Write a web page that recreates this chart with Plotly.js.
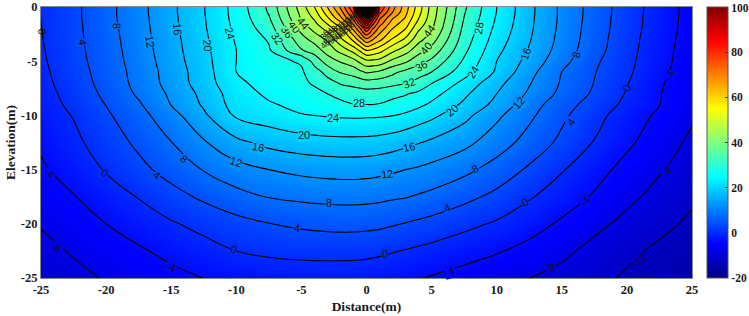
<!DOCTYPE html>
<html><head><meta charset="utf-8">
<script src="https://cdn.plot.ly/plotly-3.0.1.min.js"></script>
<style>html,body{margin:0;padding:0;background:#fff}</style>
</head><body><div id="chart" style="width:749px;height:316px"></div>
<script>
const distance = [-25,-22.5,-20,-17.5,-15,-12.5,-10,-7.5,-5,-4,-3,-2,-1,-0.5,0,0.5,1,2,3,4,5,7.5,10,12.5,15,17.5,20,22.5,25];
const elevation = [0,-0.5,-1,-1.5,-2,-3,-4,-5,-6,-7,-8,-9,-10,-12.5,-15,-17.5,-20,-22.5,-25];
// potential values, one list per elevation row, left to right
const potential = [
[0.1,3.1,6.7,10.7,15.1,19.8,25.5,32.7,46,52,60,68.5,80,110,300,110,80,69.5,61.7,54,46.5,32.7,24,17,11.2,6.3,2,-1.9,-5.4],
[0.1,3.1,6.7,10.7,15.1,19.8,25.4,32.3,45.2,50.3,58,66,77,96,150,93,77,68,61,53.4,46.2,32.3,23.9,17,11.2,6.3,2,-1.9,-5.4],
[0,3.1,6.7,10.6,15,19.7,25.3,31.6,44.4,48.7,55.5,63,73.5,85,98,83,73,64.5,59.7,52.3,45.8,31.9,23.6,16.9,11.2,6.2,1.9,-2,-5.4],
[0,3,6.6,10.5,15,19.6,25.1,30.8,43,47,52.5,59,69,78,88,77,70,62,58,50.6,45.2,31.4,23.3,16.8,11.1,6.1,1.9,-2,-5.5],
[-0.1,3,6.5,10.4,14.9,19.5,24.9,30,41.3,45.3,49.5,55,65,71.5,79,72,66.5,60,56,48.7,44.5,30.9,22.9,16.7,11,6,1.8,-2.1,-5.5],
[-0.2,2.9,6.3,10.2,14.6,19.2,24.4,28.4,38.4,41.5,44.5,51,57,62,67,64,61,55.5,51.2,45.3,41.8,30,22,16.3,10.7,5.8,1.5,-2.3,-5.7],
[-0.4,2.8,6.1,10,14.4,18.9,24,27.5,35.7,37.7,41.8,45.2,49.5,52.5,56,55,53.6,49,45.7,41.5,38.6,28.9,21,15.7,10.2,5.5,1.3,-2.5,-5.9],
[-0.6,2.6,5.9,9.7,14.1,18.6,24,26.9,28.4,33.5,37.8,40.4,42.5,45,47,47,46.6,43,40.7,37.6,35.2,27.4,20,14.6,9.3,4.7,1,-2.7,-6],
[-0.9,2.3,5.6,9.4,13.7,18.2,24,26.2,27.5,30.2,33.4,36.4,37.7,39.1,40.5,40,39.3,37,34.9,33.3,32,25.7,19.4,13.3,8,4.2,0.7,-3,-6.3],
[-1.2,2,5.3,9.2,13.5,18,23.2,25.5,27.2,28.5,30.5,32.4,33.3,33.8,34.3,34.2,34,33.2,32.3,30.9,28.2,22.9,17.3,12.3,7.6,3.9,0.2,-3.5,-6.6],
[-1.6,1.5,4.8,8.6,12.7,17.1,22.2,24.7,26,27,28,29,29.8,30.1,30.3,30.2,30,29,28.3,27.1,25.5,20.8,16,11.4,7,3.4,-0.3,-3.8,-6.8],
[-2,1,4.1,7.5,12.1,16.5,21.7,23.6,25,25.8,26.5,27.2,27.9,28,28,28,27.8,27,26.1,24.9,23.3,19.3,14.8,9.8,5.7,2.3,-0.9,-3.9,-7],
[-2.5,0.2,3.4,6.6,10.5,15.3,20.6,22.1,23.8,24,24.3,24.5,24.6,24.6,24.5,24.5,24.4,24.1,23.3,22.1,20.9,17.2,12.8,8.8,4.8,1.3,-1.9,-4.7,-7.5],
[-3.4,-0.9,1.9,4.8,7.9,11.6,15,17.1,18.2,18.5,18.7,18.8,18.8,18.75,18.7,18.6,18.4,17.8,17,16.2,15.3,13.1,9.9,6.5,3.1,-0.2,-3.3,-6,-8.8],
[-4.6,-2.3,0.3,2.9,5.5,8.2,10.5,12,13,13.25,13.45,13.6,13.6,13.55,13.45,13.3,13.1,12.6,12,11.5,10.85,9,6.4,3.4,0.3,-2.6,-5.2,-7.6,-10],
[-6,-4.2,-2,0.2,2.6,4.7,6.7,8.2,8.8,9,9.1,9.2,9.2,9.15,9.1,9,8.85,8.5,8.2,7.6,7,5.1,3,0.4,-2,-4.4,-7,-9.3,-11.4],
[-7.7,-5.9,-4,-2.2,-0.4,1.2,2.7,3.9,4.7,4.95,5.15,5.25,5.25,5.2,5.1,5,4.85,4.35,3.85,3.3,2.75,1.1,-0.5,-2.4,-4.6,-6.9,-9.1,-11,-12.7],
[-9.2,-7.6,-6,-4.5,-2.95,-1.45,0,0.8,1.15,1.2,1.2,1.2,1.15,1.1,1,0.85,0.7,0.25,-0.2,-0.7,-1.2,-2.5,-3.65,-5.2,-7,-9.3,-11.2,-12.7,-14.2],
[-10.4,-9.1,-7.7,-6.4,-5.1,-3.95,-3.1,-2.6,-2.25,-2.15,-2.1,-2.1,-2.15,-2.2,-2.3,-2.45,-2.6,-2.95,-3.35,-3.8,-4.3,-5.4,-6.7,-8,-9.4,-10.95,-12.5,-13.95,-15.3]
];

const tickX = [-25,-20,-15,-10,-5,0,5,10,15,20,25];
const tickY = [-25,-20,-15,-10,-5,0];
const tickBar = [-20,0,20,40,60,80,99.4];
const tickBarText = ['-20','0','20','40','60','80','100'];

// contour labels: value, distance, elevation, angle (clockwise degrees as drawn)
const labelValue = [0,4,8,12,16,20,24, 32,36,40,44, 44,40,36,32, 28,24,24,28, 20,20, 16,16,16, 12,12,12, 8,8,8,8, 4,4,4,4, 0,0,0,0,0, -4,-4,-4,-4,-4, -8,-8,-8, -12];
const labelX = [-24.9,-21.8,-19.2,-16.6,-14.5,-12.2,-10.5, -6.9,-6.1,-5.5,-4.9, 4.8,4.6,4.2,3.3, -0.6,-2.6,8.2,8.6, -4.8,6.6, -8.3,3.3,12.2, -10,1.6,11.7, -14,-2.9,8.3,16.1, -16.1,-5.3,6.2,15.7, -20.1,-10.2,1.4,12.2,20, -24.3,-15,6.4,16.8,23.3, -23.8,14.1,23.1, 20.9];
const labelY = [-2.3,-3.2,-1.7,-3.2,-2,-3.5,-2.4, -2.9,-2.3,-1.8,-1.5, -2.2,-3.8,-5.4,-7, -8.9,-10.2,-6,-1.9, -11.8,-9.5, -12.9,-12.9,-4.3, -14.3,-15.4,-8.9, -14,-18.1,-14.9,-4.4, -15.5,-20.4,-18.5,-10.6, -15.3,-22.3,-22.8,-18,-7.5, -15.3,-24,-24.4,-17.9,-6.3, -22.1,-24.1,-15.1, -23.3];
const labelAngle = [85,85,88,80,85,85,75, 55,55,55,50, -55,-50,-30,-20, 0,0,-60,-80, 0,-40, 10,-12,-70, 18,-5,-50, 40,0,-30,-75, 40,5,-20,-55, 45,15,0,-30,-70, 45,25,-15,-45,-70, 45,-25,-50, -35];

// crowded labels beside the source
const crowdValue = [48,52,56,60,64,68,72,76, 80,84,88,92,96,100,104,108];
const crowdX = [-3.2,-2.9,-2.6,-2.35,-2.05,-1.75,-1.5,-1.3, -3.2,-2.9,-2.6,-2.3,-2,-1.7,-1.4,-1.05];
const crowdY = [-3.4,-3.15,-2.95,-2.75,-2.55,-2.35,-2.1,-1.85, -2.6,-2.4,-2.2,-2,-1.75,-1.55,-1.3,-1.1];

function jet(v){
  const t=(v+20)/120;
  const ramp=c=>Math.max(0,Math.min(1,c));
  const r=ramp(Math.min(4*t-1.5,-4*t+4.5)),g=ramp(Math.min(4*t-0.5,-4*t+3.5)),b=ramp(Math.min(4*t+0.5,-4*t+2.5));
  return `rgb(${Math.round(r*255)},${Math.round(g*255)},${Math.round(b*255)})`;
}
const jetScale=[[0,'rgb(0,0,132)'],[0.125,'rgb(0,0,255)'],[0.375,'rgb(0,255,255)'],[0.625,'rgb(255,255,0)'],[0.875,'rgb(255,0,0)'],[1,'rgb(128,0,0)']];
const serif={family:'"Liberation Serif",serif',size:12.5,color:'#1a1a1a',weight:700};
const serifBar={family:'"Liberation Serif",serif',size:11.5,color:'#1a1a1a',weight:700};
const serifTitle={family:'"Liberation Serif",serif',size:13.5,color:'#1a1a1a',weight:700};

const annotations=labelValue.map((v,i)=>{
  const a={x:labelX[i],y:labelY[i],text:String(v),textangle:labelAngle[i],showarrow:false,
  font:{family:'"Liberation Sans",sans-serif',size:11,color:'#111'},borderpad:0,xanchor:'center',yanchor:'middle'};
  if(i>0) a.bgcolor=jet(v);
  return a;
}).concat(crowdValue.map((v,i)=>({x:crowdX[i],y:crowdY[i],text:String(v),textangle:-50,showarrow:false,
  font:{family:'"Liberation Sans",sans-serif',size:9,color:'#222'},borderpad:0})));

const fill={type:'contour',x:distance,y:elevation,z:potential,zmin:-20,zmax:100,zauto:false,autocontour:false,
  colorscale:jetScale,contours:{coloring:'fill',start:-20,end:101,size:0.5,showlines:false},line:{width:0,smoothing:1},
  colorbar:{x:1.023,xanchor:'left',xpad:0,ypad:0,y:0.5,yanchor:'middle',len:1,thickness:21,outlinecolor:'#555',outlinewidth:1,
    tickmode:'array',tickvals:tickBar,ticktext:tickBarText,ticks:'inside',ticklen:3,tickcolor:'#333',tickfont:serifBar},hoverinfo:'skip'};
const lines={type:'contour',x:distance,y:elevation,z:potential,autocontour:false,showscale:false,
  contours:{coloring:'none',start:-40,end:400,size:4},line:{color:'#000',width:1.1,smoothing:1.3},hoverinfo:'skip'};

Plotly.newPlot('chart',[fill,lines],{
  width:749,height:316,margin:{l:41,r:57,t:7,b:38,autoexpand:false},paper_bgcolor:'#fff',plot_bgcolor:'#fff',showlegend:false,annotations,
  xaxis:{range:[-25,25],tickmode:'array',tickvals:tickX,ticktext:tickX.map(String),ticks:'',tickfont:serif,showgrid:false,zeroline:false,
    showline:true,mirror:true,linecolor:'#888',linewidth:1,title:{text:'Distance(m)',font:serifTitle,standoff:5}},
  yaxis:{range:[-25,0],tickmode:'array',tickvals:tickY,ticktext:tickY.map(String),ticks:'',tickfont:serif,showgrid:false,zeroline:false,
    showline:true,mirror:true,linecolor:'#888',linewidth:1,title:{text:'Elevation(m)',font:serifTitle,standoff:2}}
},{displayModeBar:false,staticPlot:true});
</script></body></html>
